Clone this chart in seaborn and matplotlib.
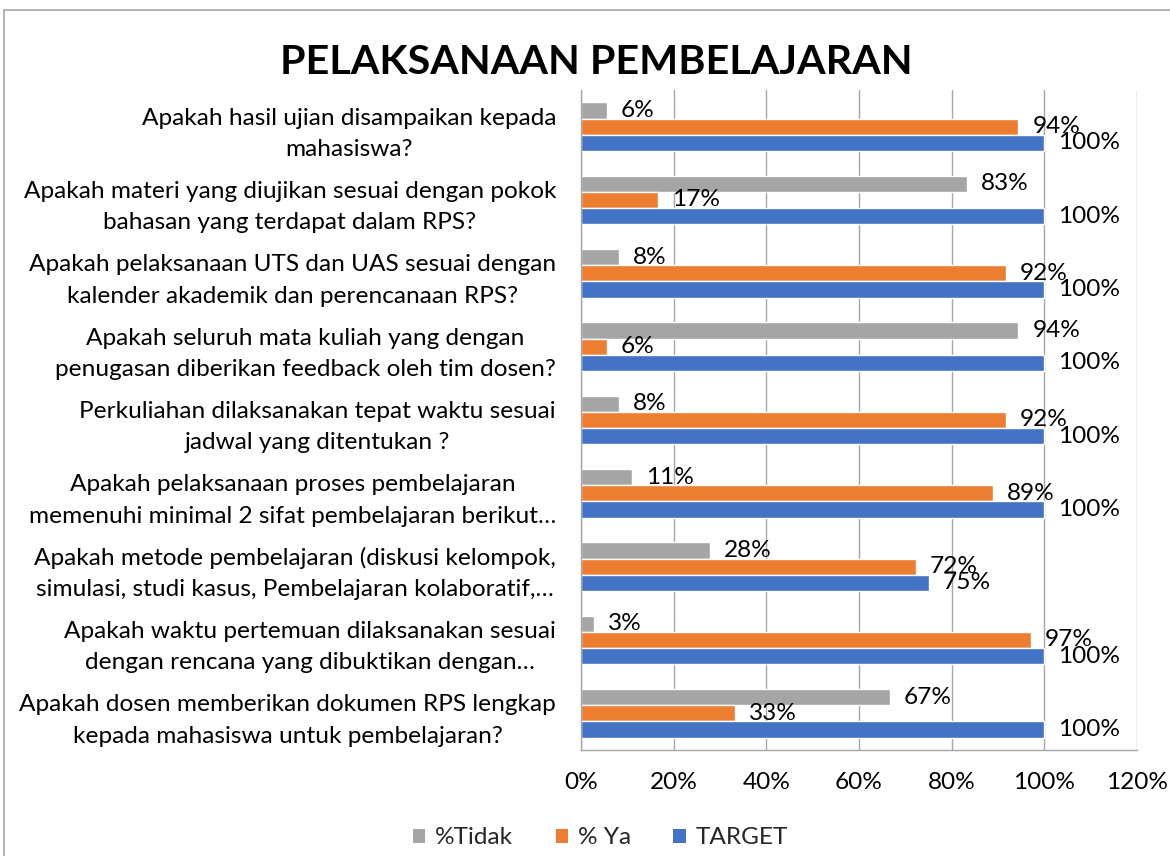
import matplotlib
matplotlib.use("Agg")
import matplotlib.pyplot as plt
from matplotlib.patches import Patch, Rectangle
from matplotlib.ticker import FixedLocator, PercentFormatter
import seaborn as sns
import pandas as pd

categories = [
    "Apakah hasil ujian disampaikan kepada\nmahasiswa?",
    "Apakah materi yang diujikan sesuai dengan pokok\nbahasan yang terdapat dalam RPS?",
    "Apakah pelaksanaan UTS dan UAS sesuai dengan\nkalender akademik dan perencanaan RPS?",
    "Apakah seluruh mata kuliah yang dengan\npenugasan diberikan feedback oleh tim dosen?",
    "Perkuliahan dilaksanakan tepat waktu sesuai\njadwal yang ditentukan ?",
    "Apakah pelaksanaan proses pembelajaran\nmemenuhi minimal 2 sifat pembelajaran berikut…",
    "Apakah metode pembelajaran (diskusi kelompok,\nsimulasi, studi kasus, Pembelajaran kolaboratif,…",
    "Apakah waktu pertemuan dilaksanakan sesuai\ndengan rencana yang dibuktikan dengan…",
    "Apakah dosen memberikan dokumen RPS lengkap\nkepada mahasiswa untuk pembelajaran?",
]
tidak = [0.056, 0.833, 0.083, 0.944, 0.083, 0.111, 0.278, 0.028, 0.667]
ya = [0.944, 0.167, 0.917, 0.056, 0.917, 0.889, 0.722, 0.972, 0.333]
target = [1.0, 1.0, 1.0, 1.0, 1.0, 1.0, 0.75, 1.0, 1.0]
series_names = ["%Tidak", "% Ya", "TARGET"]
colors = ["#A5A5A5", "#ED7D31", "#4472C4"]
x_ticks = [0, 0.2, 0.4, 0.6, 0.8, 1.0, 1.2]

rows = []
for name, vals in zip(series_names, [tidak, ya, target]):
    for c, v in zip(categories, vals):
        rows.append({"Kategori": c, "Seri": name, "Nilai": v})
df = pd.DataFrame(rows)

sns.set_style("white")
FONT = "Lato"
plt.rcParams["font.family"] = [FONT, "DejaVu Sans"]
FS = 17.6

W, H = 1170, 856
fig = plt.figure(figsize=(W / 100, H / 100), dpi=100)
ax = fig.add_axes([581 / W, 1 - 750 / H, (1137 - 581) / W, (750 - 90) / H])

sns.barplot(data=df, y="Kategori", x="Nilai", hue="Seri", order=categories,
            hue_order=series_names, palette=colors, orient="h", width=0.66,
            saturation=1, ax=ax, legend=False, errorbar=None)

ax.set_xlim(0, 1.2)
ax.xaxis.set_major_locator(FixedLocator(x_ticks))
ax.xaxis.set_major_formatter(PercentFormatter(1.0, decimals=0))
ax.grid(axis="x", color="#A6A6A6", lw=1.0)
ax.set_axisbelow(True)
ax.set_xlabel("")
ax.set_ylabel("")

for s in ["top", "right"]:
    ax.spines[s].set_visible(False)
for s in ["left", "bottom"]:
    ax.spines[s].set_color("#A6A6A6")
    ax.spines[s].set_linewidth(1.0)

ax.set_yticks(range(len(categories)))
ax.set_yticklabels(categories, linespacing=1.6, multialignment="center")
ax.tick_params(axis="x", which="major", length=9, color="#A6A6A6", width=1.0,
               labelsize=FS, pad=7, labelcolor="black")
ax.tick_params(axis="y", which="major", length=0, labelsize=FS, pad=18,
               labelcolor="black")
ax.yaxis.set_minor_locator(FixedLocator([i - 0.5 for i in range(len(categories) + 1)]))
ax.tick_params(axis="y", which="minor", length=6, color="#A6A6A6", width=1.0)

for cont in ax.containers:
    ax.bar_label(cont, fmt=lambda v: f"{v * 100:.0f}%", padding=10,
                 fontsize=FS, color="black")

fig.text(0.510, 1 - 62 / H, "PELAKSANAAN PEMBELAJARAN", ha="center", va="center",
         fontsize=29.7, fontweight="bold", color="black")

handles = [Patch(facecolor=c, edgecolor="none", label=n) for c, n in zip(colors, series_names)]
fig.legend(handles=handles, loc="center", bbox_to_anchor=(0.513, 1 - 838 / H), ncol=3,
           frameon=False, fontsize=FS, handlelength=0.5, handleheight=0.5,
           handletextpad=0.4, columnspacing=1.75)

fig.patches.append(Rectangle((4 / W, -0.1), 1.2, 1 - 10 / H + 0.1, fill=False,
                             edgecolor="#A6A6A6", lw=1.2, transform=fig.transFigure))

fig.savefig("out.png", dpi=100)
